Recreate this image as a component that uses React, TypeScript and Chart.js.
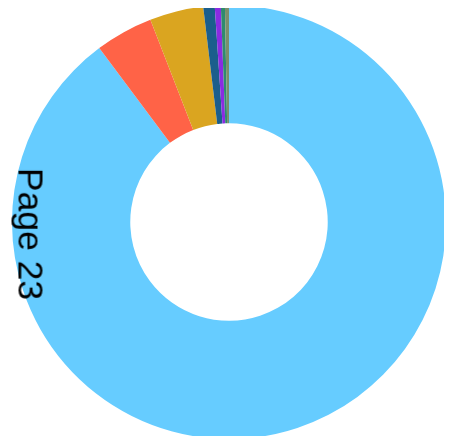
import React, { useEffect, useRef } from "react";
import { Chart, registerables } from "chart.js";

Chart.register(...registerables);

const categories: string[] = ["A", "B", "C", "D", "E", "F", "G"];
const values: number[] = [89.8, 4.3, 4.0, 0.85, 0.45, 0.3, 0.3];
const colors: string[] = ["#66CCFF", "#FF6347", "#DAA520", "#1B5E8C", "#8A2BE2", "#2E8B6E", "#7A8F6A"];
const sideLabel = "Page 23";

export default function App() {
  const ref = useRef<HTMLCanvasElement | null>(null);
  useEffect(() => {
    if (!ref.current) return;
    const chart = new Chart(ref.current, {
      type: "doughnut",
      data: {
        labels: categories,
        datasets: [
          {
            data: values,
            backgroundColor: colors,
            borderWidth: 0,
          },
        ],
      },
      options: {
        responsive: false,
        animation: false,
        cutout: "45.5%",
        layout: { padding: 0 },
        plugins: {
          legend: { display: false },
          tooltip: { enabled: false },
        },
      },
    });
    return () => chart.destroy();
  }, []);

  return (
    <div style={{ position: "relative", width: 452, height: 444, margin: -8 }}>
      <div style={{ position: "absolute", left: 12, top: 5, width: 434, height: 434 }}>
        <canvas ref={ref} width={434} height={434} style={{ display: "block" }} />
      </div>
      <div
        style={{
          position: "absolute",
          left: 30,
          top: 233.5,
          transform: "translate(-50%, -50%) rotate(90deg)",
          fontFamily: "'Liberation Sans', Arial, sans-serif",
          fontSize: 35.5,
          lineHeight: "35px",
          whiteSpace: "nowrap",
          color: "#000",
        }}
      >
        {sideLabel}
      </div>
    </div>
  );
}
